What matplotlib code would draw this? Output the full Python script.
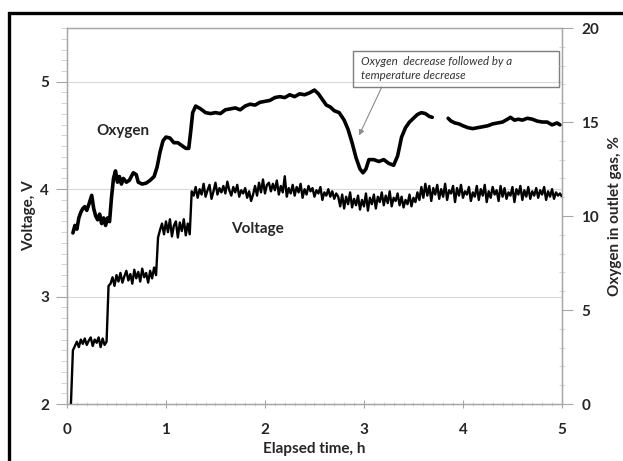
import numpy as np
import matplotlib
matplotlib.use('Agg')
from matplotlib import pyplot as plt
from matplotlib.patches import Rectangle
from matplotlib.ticker import MultipleLocator

# voltage logged every 0.02 h starting at 0.04 h
VOLT_START = 0.04
VOLT_STEP = 0.02
voltage = [
    2.00, 2.50,
    2.54, 2.58, 2.53, 2.60, 2.56, 2.61, 2.55, 2.59, 2.62, 2.54,
    2.60, 2.57, 2.62, 2.53, 2.61, 2.55, 2.58,
    3.10,
    3.12, 3.18, 3.10, 3.20, 3.14, 3.22, 3.13, 3.19, 3.24, 3.15,
    3.21, 3.12, 3.25, 3.17, 3.23, 3.14, 3.26, 3.18, 3.22, 3.13,
    3.24, 3.17, 3.27, 3.20,
    3.55,
    3.62, 3.68, 3.58, 3.70, 3.60, 3.72, 3.56, 3.66, 3.70, 3.55,
    3.69, 3.61, 3.72, 3.57, 3.68,
    3.58, 3.98,
    3.94, 4.02, 3.92, 4.00, 3.95, 4.05, 3.93, 3.99, 4.04, 3.91,
    3.98, 4.06, 3.95, 4.01, 3.97, 4.03, 3.96, 4.07, 3.99, 3.94,
    4.02, 3.97, 4.04, 3.93, 3.99, 3.96, 4.01, 3.92, 3.98, 3.89,
    3.95, 4.03, 3.94, 4.06, 3.97, 4.09, 3.96, 4.04, 4.06, 3.98,
    4.05, 3.99, 4.08, 3.95, 4.03, 3.97, 4.12, 3.93, 4.01, 3.96,
    4.04, 3.94, 4.02, 3.97, 4.05, 3.92, 4.00, 3.95, 4.03, 3.98,
    4.01, 3.93, 3.99, 3.96, 4.02, 3.90, 3.97, 3.94, 4.00, 3.93,
    3.98, 3.91, 3.96, 3.93,
    3.84, 3.95, 3.82, 3.93, 3.86, 3.97, 3.83, 3.91, 3.85, 3.94,
    3.81, 3.90, 3.84, 3.96, 3.80, 3.92, 3.86, 3.95, 3.82, 3.93,
    3.88, 3.97, 3.85, 3.94, 3.87, 3.98, 3.84, 3.92, 3.89, 3.96,
    3.85, 3.93, 3.83, 3.90, 3.86, 3.95, 3.84, 3.92, 3.88, 3.97,
    3.90, 4.02, 3.92, 4.05, 3.94, 4.03, 3.89, 4.01, 3.95, 4.04,
    3.91, 4.00, 3.93, 4.05, 3.90, 3.99, 3.96, 4.03, 3.88, 4.01,
    3.94, 4.04, 3.92, 3.98, 3.95, 4.02, 3.89, 3.97, 3.93, 4.03,
    3.90, 4.00, 3.94, 4.04, 3.88, 3.98, 3.92, 4.02, 3.95, 3.99,
    3.89, 4.03, 3.93, 4.01, 3.91, 3.97, 3.94, 4.02, 3.88, 4.00,
    3.95, 4.03, 3.90, 3.99, 3.93, 4.02, 3.91, 3.98, 3.94, 4.01,
    3.92, 3.99, 3.95, 4.02, 3.90, 3.98, 3.93, 4.00, 3.91, 3.97,
    3.94, 3.96, 3.93,
]

oxygen_time = [
    0.06, 0.08, 0.10, 0.12, 0.14, 0.16, 0.18, 0.20, 0.22, 0.25,
    0.27, 0.29, 0.31, 0.33, 0.35, 0.37, 0.39, 0.41, 0.43, 0.45,
    0.47, 0.49, 0.51, 0.53, 0.55, 0.57, 0.60, 0.63, 0.67, 0.70,
    0.72, 0.76, 0.80, 0.84, 0.88, 0.91, 0.94, 0.97, 1.00, 1.04,
    1.08, 1.12, 1.16, 1.20, 1.23, 1.25, 1.27, 1.30, 1.35, 1.40,
    1.45, 1.50, 1.55, 1.60, 1.65, 1.70, 1.75, 1.80, 1.85, 1.90,
    1.95, 2.00, 2.05, 2.10, 2.15, 2.20, 2.25, 2.30, 2.35, 2.40,
    2.45, 2.50, 2.54, 2.58, 2.62, 2.66, 2.70, 2.75, 2.80, 2.84,
    2.88, 2.92, 2.96, 2.99, 3.02, 3.05, 3.10, 3.15, 3.20, 3.25,
    3.30, 3.34, 3.38, 3.42, 3.46, 3.50, 3.54, 3.58, 3.62, 3.66,
    3.69, 3.77,
    3.85, 3.88, 3.92, 3.96, 4.00, 4.05, 4.10, 4.15, 4.20, 4.25,
    4.30, 4.35, 4.40, 4.45, 4.48, 4.52, 4.56, 4.60, 4.65, 4.70,
    4.75, 4.80, 4.85, 4.90, 4.95, 4.98,
]
oxygen = [
    9.1, 9.5, 9.3, 9.9, 10.2, 10.4, 10.5, 10.3, 10.6, 11.1,
    10.4, 10.0, 9.8, 10.1, 9.6, 9.9, 9.5, 9.9, 9.7, 11.0,
    12.0, 12.4, 11.8, 12.1, 11.7, 12.0, 11.8, 11.9, 12.3, 12.2,
    11.8, 11.7, 11.75, 11.9, 12.1, 12.6, 13.4, 14.0, 14.2, 14.15,
    13.9, 13.9, 13.75, 13.6, 13.6, 14.5, 15.5, 15.85, 15.7, 15.5,
    15.45, 15.5, 15.45, 15.65, 15.7, 15.75, 15.65, 15.85, 15.95, 15.9,
    16.05, 16.1, 16.15, 16.3, 16.35, 16.3, 16.45, 16.35, 16.5, 16.45,
    16.55, 16.7, 16.5, 16.2, 15.9, 15.8, 15.6, 15.5, 15.1, 14.6,
    13.9, 13.1, 12.5, 12.3, 12.5, 13.0, 13.0, 12.9, 13.0, 12.8,
    12.7, 13.2, 14.2, 14.7, 15.0, 15.2, 15.4, 15.5, 15.45, 15.3,
    15.25, np.nan,
    15.2, 15.05, 14.95, 14.9, 14.8, 14.7, 14.65, 14.7, 14.75, 14.8,
    14.9, 14.95, 15.0, 15.15, 15.25, 15.1, 15.15, 15.1, 15.2, 15.15,
    15.05, 15.0, 15.0, 14.85, 14.95, 14.85,
]

volt_ticks = [2, 3, 4, 5]
oxygen_ticks = [0, 5, 10, 15, 20]
time_ticks = [0, 1, 2, 3, 4, 5]

note = "Oxygen  decrease followed by a\ntemperature decrease"


def main():
    plt.rcParams['font.family'] = ['Lato', 'DejaVu Sans']

    fig = plt.figure(figsize=(6.23, 4.61), dpi=100)
    ax = fig.add_axes([0.1075, 0.1236, 0.7945, 0.8156])
    ax2 = ax.twinx()

    volt_time = VOLT_START + VOLT_STEP * np.arange(len(voltage))

    ax.plot(volt_time, voltage, color='black', lw=1.7, zorder=3)
    ax2.plot(oxygen_time, oxygen, color='black', lw=2.6, solid_capstyle='round')

    ax.set_xlim(0, 5)
    ax.set_ylim(2, 5.5)
    ax2.set_ylim(0, 20)

    ax.set_xticks(time_ticks)
    ax.set_yticks(volt_ticks)
    ax2.set_yticks(oxygen_ticks)
    ax.xaxis.set_minor_locator(MultipleLocator(0.1))
    ax.yaxis.set_minor_locator(MultipleLocator(0.1))
    ax2.yaxis.set_minor_locator(MultipleLocator(1))

    ax.yaxis.grid(True, color='#d9d9d9', lw=0.8)
    ax.set_axisbelow(True)

    gray = '#a6a6a6'
    for a in (ax, ax2):
        for s in a.spines.values():
            s.set_color(gray)
            s.set_linewidth(0.9)

    bold = dict(fontsize=11, fontweight='bold', color='#262626')
    ax.tick_params(axis='y', which='major', direction='out', length=8,
                   color=gray, pad=5)
    ax.tick_params(axis='y', which='minor', direction='out', length=4,
                   color='#cfcfcf')
    ax.tick_params(axis='x', which='major', direction='inout', length=6,
                   color=gray, pad=11)
    ax.tick_params(axis='x', which='minor', direction='inout', length=3,
                   color='#cfcfcf')
    ax2.tick_params(axis='y', which='major', direction='out', length=8,
                    color=gray, pad=6)
    ax2.tick_params(axis='y', which='minor', direction='inout', length=4,
                    color='#cfcfcf')
    for lab in ax.get_xticklabels() + ax.get_yticklabels() + ax2.get_yticklabels():
        lab.set_fontsize(bold['fontsize'])
        lab.set_fontweight('bold')
        lab.set_color(bold['color'])

    ax.set_xlabel('Elapsed time, h', labelpad=3, **bold)
    ax.set_ylabel('Voltage, V', labelpad=3, **bold)
    ax2.set_ylabel('Oxygen in outlet gas, %', labelpad=6, **bold)

    ax.text(0.57, 4.54, 'Oxygen', ha='center', va='center', **bold)
    ax.text(1.92, 3.63, 'Voltage', ha='center', va='center', **bold)

    # note box with arrow
    ax.add_patch(Rectangle((2.89, 4.95), 2.08, 0.34, fill=False,
                           edgecolor='#7f7f7f', lw=1.0, zorder=4))
    ax.text(2.97, 5.12, note, ha='left', va='center', fontsize=8.3,
            style='italic', color='#333333', linespacing=1.35, zorder=4)
    ax.annotate('', xy=(2.95, 4.50), xytext=(3.18, 4.95),
                arrowprops=dict(arrowstyle='-|>', color='#8c8c8c', lw=0.8,
                                mutation_scale=8, shrinkA=0, shrinkB=0))

    # outer frame of the scanned figure
    fig.patches.append(Rectangle((0.0137, -0.1), 1.2, 1.071, fill=False,
                                 edgecolor='black', lw=2.4,
                                 transform=fig.transFigure, figure=fig))

    fig.savefig('out.png', dpi=100)


if __name__ == '__main__':
    main()
